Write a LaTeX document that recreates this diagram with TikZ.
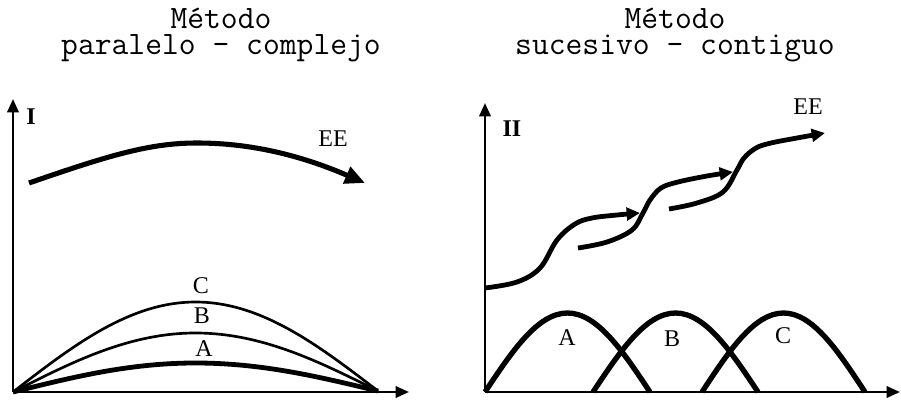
\documentclass[tikz,border=0pt]{standalone}
\usepackage{fontspec}
\setmainfont{Liberation Serif}
\usetikzlibrary{arrows.meta}
\begin{document}
\begin{tikzpicture}[x=0.75pt,y=-0.75pt,
  axis/.style={line width=1.8pt,-{Triangle[length=10pt,width=8.5pt]}},
  thincurve/.style={line width=2pt},
  thickcurve/.style={line width=3.6pt},
  bump/.style={line width=4pt},
  eearrow/.style={line width=3.8pt,-{Triangle[length=15pt,width=13pt]}},
  stairarrow/.style={line width=3.6pt,-{Triangle[length=10pt,width=9.5pt]}},
  lab/.style={inner sep=0pt,font=\fontsize{18}{20}\selectfont},
  blab/.style={inner sep=0pt,font=\fontsize{18}{20}\selectfont\bfseries},
  title/.style={inner sep=0pt,anchor=north,align=center,font=\fontsize{24.5}{19.5}\selectfont\ttfamily}
]
\useasboundingbox (0,0) rectangle (901,400);
% titles
\node[title] (t1) at (221,8) {{\addfontfeature{LetterSpace=6}Método}\\paralelo - complejo};
\node[title] (t2) at (675,8) {{\addfontfeature{LetterSpace=6}Método}\\sucesivo - contiguo};

% ---------- left plot ----------
\coordinate (o1) at (13,392);
\coordinate (y1) at (13,99);
\coordinate (x1) at (409,392);
\draw[axis] (o1) -- (y1);
\draw[axis] (o1) -- (x1);
\node[blab] (I) at (31,117) {I};
\coordinate (e1) at (378,391);
\draw[thincurve] (o1) sin (195.5,302) cos (e1);
\draw[thincurve] (o1) sin (195.5,333) cos (e1);
\draw[thickcurve] (o1) sin (195.5,363) cos (e1);
\node[lab] (C1) at (201,286) {C};
\node[lab] (B1) at (202,316) {B};
\node[lab] (A1) at (204,349) {A};
\draw[eearrow] (29,183) .. controls (110,155) and (150,143) .. (197,143)
  .. controls (250,143) and (300,155) .. (365,183);
\node[lab] (EE1) at (333,139) {EE};

% ---------- right plot ----------
\coordinate (o2) at (485,392);
\coordinate (y2) at (485,103);
\coordinate (x2) at (900,392);
\draw[axis] (o2) -- (y2);
\draw[axis] (o2) -- (x2);
\node[blab] (II) at (512,129) {II};
\draw[bump] (o2) sin (567.5,313) cos (650,392);
\draw[bump] (593,392) sin (675.5,313) cos (758,392);
\draw[bump] (702,392) sin (783.5,313) cos (865,392);
\node[lab] (A2) at (567,338) {A};
\node[lab] (B2) at (672,339) {B};
\node[lab] (C2) at (783,336) {C};
\draw[stairarrow] plot[smooth,tension=0.6] coordinates {(485,288) (517,282) (540,268) (557,240) (575,224) (592,218) (617,215) (640,213)};
\draw[stairarrow] plot[smooth,tension=0.6] coordinates {(578,248) (607,242) (632,230) (643,213) (650,200) (661,188) (678,182) (707,176) (733,172)};
\draw[stairarrow] plot[smooth,tension=0.6] coordinates {(669,209) (697,203) (723,192) (737,170) (744,158) (756,148) (771,143) (797,138) (825,133)};
\node[lab] (EE2) at (808,107) {EE};
\end{tikzpicture}
\end{document}
